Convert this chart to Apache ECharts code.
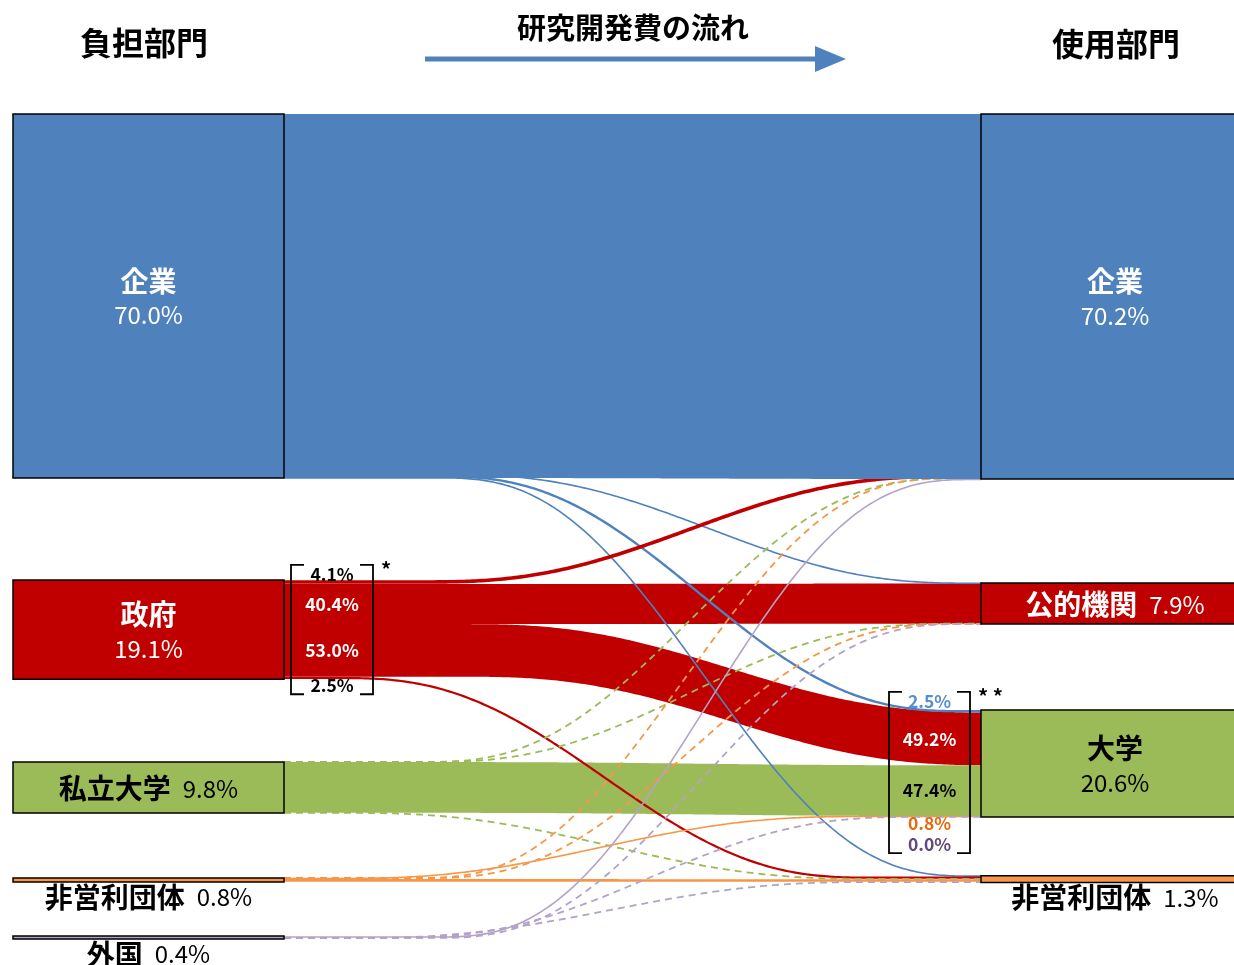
<!DOCTYPE html>
<html>
<head>
<meta charset="utf-8">
<script src="https://cdn.jsdelivr.net/npm/echarts@6/dist/echarts.min.js"></script>
<style>
  html, body { margin: 0; padding: 0; background: #ffffff; }
  #chart { width: 1234px; height: 965px; }
</style>
</head>
<body>
<div id="chart"></div>
<script>
// 負担部門 (who pays) and 使用部門 (who spends), % of total R&D expenditure
const funders = ['企業', '政府', '私立大学', '非営利団体', '外国'];
const funderShare = [70.0, 19.1, 9.8, 0.8, 0.4];
const performers = ['企業', '公的機関', '大学', '非営利団体'];
const performerShare = [70.2, 7.9, 20.6, 1.3];

// 政府負担額の使用部門別内訳 (% of 政府負担)
const govToPerformer = [4.1, 40.4, 53.0, 2.5];
// 大学使用額の負担部門別内訳 (% of 大学使用)
const univFromFunder = [2.5, 49.2, 47.4, 0.8, 0.0];

// remaining flows, % of total; the 大学 column comes from univFromFunder
const companyTo   = [69.3, 0.10, null, 0.12];
const privUnivTo  = [0.02, 0.01, null, 0.01];
const nonprofitTo = [0.02, 0.02, null, 0.58];
const foreignTo   = [0.34, 0.03, null, 0.02];

// ---- layout -------------------------------------------------------------
const UNIT_PX = 5.2;           // pixels per percentage point
const Y_MAX = 160;
const GRID_TOP = 114;
const X_MAX = 1234;
const LEFT_X = [13, 284];
const RIGHT_X = [981, 1249];
const LINK_X = [284, 982];
const FUNDER_GAP = [19.6, 15.9, 12.5, 10.4];
const PERFORMER_GAP = [20.0, 16.5, 11.3];
const LEFT_BRACKET_X = [291, 373];
const RIGHT_BRACKET_X = [889, 970];
const CURVE_HALF = 270;
const CURVE_MID = [
  [700, 710, 700, 705],
  [690, 700, 730, 605],
  [690, 690, 700, 610],
  [685, 690, 600, 640],
  [705, 700, 650, 610]
];
const JP = '"Noto Sans CJK JP", "Noto Sans", sans-serif';

const FUNDER_COLOR = ['#4F81BD', '#C00000', '#9BBB59', '#F79646', '#B3A2C7'];
const PERFORMER_COLOR = ['#4F81BD', '#C00000', '#9BBB59', '#F79646'];
const FUNDER_TEXT = ['#FFFFFF', '#FFFFFF', '#000000', '#000000', '#000000'];
const PERFORMER_TEXT = ['#FFFFFF', '#FFFFFF', '#000000', '#000000'];
const FUNDER_ACCENT = ['#558ED5', '#C00000', '#77933C', '#E46C0A', '#604A7B'];

// ---- flow amounts ---------------------------------------------------------
const otherRows = [companyTo, null, privUnivTo, nonprofitTo, foreignTo];
const srcAmt = funders.map((f, i) => performers.map((p, j) => {
  if (i === 1) return govToPerformer[j] * funderShare[1] / 100;
  if (j === 2) return univFromFunder[i] * performerShare[2] / 100;
  return otherRows[i][j];
}));
const dstAmt = funders.map((f, i) => performers.map((p, j) =>
  j === 2 ? univFromFunder[i] * performerShare[2] / 100 : srcAmt[i][j]));

// node tops, stacked with gaps
const fTop = [];
{ let y = 0; funderShare.forEach((s, i) => { if (i > 0) y += FUNDER_GAP[i - 1]; fTop.push(y); y += s; }); }
const pTop = [];
{ let y = 0; performerShare.forEach((s, j) => { if (j > 0) y += PERFORMER_GAP[j - 1]; pTop.push(y); y += s; }); }

// link segment positions on both sides
const srcTop = srcAmt.map((row, i) => { let y = fTop[i]; return row.map(v => { const t = y; y += v; return t; }); });
const dstTop = funders.map(() => []);
performers.forEach((p, j) => { let y = pTop[j]; funders.forEach((f, i) => { dstTop[i][j] = y; y += dstAmt[i][j]; }); });

const links = [];
funders.forEach((f, i) => performers.forEach((p, j) => {
  const v = Math.max(srcAmt[i][j], dstAmt[i][j]);
  let kind = v >= 1 ? 'band' : (v < 0.05 ? 'dash' : 'line');
  let s0 = srcTop[i][j], s1 = s0 + srcAmt[i][j], t0 = dstTop[i][j], t1 = t0 + dstAmt[i][j];
  if (i === 0 && j === 0) {   // company-internal flow spans the whole node
    kind = 'main';
    s0 = fTop[0]; s1 = fTop[0] + funderShare[0];
    t0 = pTop[0]; t1 = pTop[0] + performerShare[0];
  }
  links.push({ i, j, v, kind, s0, s1, t0, t1 });
}));

const nodes = [];
funders.forEach((name, i) => nodes.push({ name, share: funderShare[i], top: fTop[i], x0: LEFT_X[0], x1: LEFT_X[1], color: FUNDER_COLOR[i], text: FUNDER_TEXT[i] }));
performers.forEach((name, j) => nodes.push({ name, share: performerShare[j], top: pTop[j], x0: RIGHT_X[0], x1: RIGHT_X[1], color: PERFORMER_COLOR[j], text: PERFORMER_TEXT[j] }));

const brackets = [
  {
    x: LEFT_BRACKET_X, mark: '*', markDx: 8, above: 6, nodeTop: fTop[1], nodeBottom: fTop[1] + funderShare[1],
    segs: performers.map((p, j) => ({ top: srcTop[1][j], h: srcAmt[1][j], label: govToPerformer[j], inColor: FUNDER_TEXT[1], outColor: '#000000' }))
  },
  {
    x: RIGHT_BRACKET_X, mark: '* *', markDx: 8, above: 9, nodeTop: pTop[2], nodeBottom: pTop[2] + performerShare[2],
    segs: funders.map((f, i) => ({ top: dstTop[i][2], h: dstAmt[i][2], label: univFromFunder[i], inColor: FUNDER_TEXT[i], outColor: FUNDER_ACCENT[i] }))
  }
];

// ---- geometry helpers ------------------------------------------------------
function smoother(u) {
  u = Math.min(1, Math.max(0, u));
  return u * u * u * (u * (u * 6 - 15) + 10);
}
function curvePoints(api, y0, y1, mid) {
  const pts = [];
  const a = mid - CURVE_HALF;
  for (let x = LINK_X[0]; ; x += 3) {
    const xx = Math.min(x, LINK_X[1]);
    const y = y0 + (y1 - y0) * smoother((xx - a) / (2 * CURVE_HALF));
    pts.push(api.coord([xx, y]));
    if (xx >= LINK_X[1]) break;
  }
  return pts;
}

function renderBand(params, api) {
  const L = links[api.value(0)];
  const mid = CURVE_MID[L.i][L.j];
  const top = curvePoints(api, L.s0, L.t0, mid);
  const bottom = curvePoints(api, L.s1, L.t1, mid).reverse();
  return { type: 'polygon', shape: { points: top.concat(bottom) }, style: { fill: FUNDER_COLOR[L.i] } };
}

function renderLine(params, api) {
  const L = links[api.value(0)];
  const mid = CURVE_MID[L.i][L.j];
  const pts = curvePoints(api, (L.s0 + L.s1) / 2, (L.t0 + L.t1) / 2, mid);
  const dashed = L.kind === 'dash';
  return {
    type: 'polyline', shape: { points: pts },
    style: {
      stroke: FUNDER_COLOR[L.i], fill: null,
      lineWidth: dashed ? 1.8 : Math.max(1.6, L.v * 4.6),
      lineDash: dashed ? [7, 5] : null
    }
  };
}

function renderNode(params, api) {
  const n = nodes[api.value(0)];
  const p0 = api.coord([n.x0, n.top]);
  const p1 = api.coord([n.x1, n.top + n.share]);
  const h = Math.max(p1[1] - p0[1], 3);
  const cx = (p0[0] + p1[0]) / 2;
  const cy = p0[1] + h / 2;
  const val = n.share.toFixed(1) + '%';
  const inside = n.share >= 2;
  const col = inside ? n.text : '#000000';
  let text, ty;
  if (n.share >= 15) { text = '{n|' + n.name + '}\n{v|' + val + '}'; ty = cy + 2; }
  else if (inside) { text = '{n|' + n.name + '}{g|' + val + '}'; ty = cy + 1; }
  else { text = '{n|' + n.name + '}{g|' + val + '}'; ty = p0[1] + h + 15; }
  return {
    type: 'group',
    children: [
      { type: 'rect', shape: { x: p0[0], y: p0[1], width: p1[0] - p0[0], height: h },
        style: { fill: n.color, stroke: '#000000', lineWidth: 1.5 } },
      { type: 'text', x: cx, y: ty,
        style: {
          text, align: 'center', verticalAlign: 'middle', fill: col,
          rich: {
            n: { fontFamily: JP, fontSize: 28, fontWeight: 'bold', fill: col, lineHeight: 34 },
            v: { fontFamily: JP, fontSize: 24, fontWeight: 'normal', fill: col, lineHeight: 34 },
            g: { fontFamily: JP, fontSize: 24, fontWeight: 'normal', fill: col, lineHeight: 34, padding: [0, 0, 0, 12] }
          }
        } }
    ]
  };
}

function renderBracket(params, api) {
  const b = brackets[api.value(0)];
  const nTop = api.coord([0, b.nodeTop])[1];
  const nBot = api.coord([0, b.nodeBottom])[1];
  const bandIdx = b.segs.map((s, k) => s.h >= 1 ? k : -1).filter(k => k >= 0);
  const first = bandIdx[0], last = bandIdx[bandIdx.length - 1];
  const bx0 = api.coord([b.x[0], 0])[0], bx1 = api.coord([b.x[1], 0])[0];
  const cx = (bx0 + bx1) / 2;
  const children = [];
  const ys = [];
  b.segs.forEach((s, k) => {
    let y, color;
    if (k < first) { y = nTop - b.above - 21 * (first - 1 - k); color = s.outColor; }
    else if (k > last) { y = nBot + 6 + 21 * (k - last - 1); color = s.outColor; }
    else {
      y = (api.coord([0, s.top])[1] + api.coord([0, s.top + s.h])[1]) / 2;
      color = s.inColor;
    }
    ys.push(y);
    children.push({ type: 'text', x: cx, y,
      style: { text: s.label.toFixed(1) + '%', align: 'center', verticalAlign: 'middle',
               fill: color, fontFamily: JP, fontSize: 17.5, fontWeight: 'bold' } });
  });
  const yTop = Math.min.apply(null, ys) - 9;
  const yBot = Math.max.apply(null, ys) + 9;
  const tick = 13;
  const st = { stroke: '#000000', lineWidth: 1.8, fill: null };
  children.push({ type: 'polyline', shape: { points: [[bx0 + tick, yTop], [bx0, yTop], [bx0, yBot], [bx0 + tick, yBot]] }, style: st });
  children.push({ type: 'polyline', shape: { points: [[bx1 - tick, yTop], [bx1, yTop], [bx1, yBot], [bx1 - tick, yBot]] }, style: st });
  children.push({ type: 'text', x: bx1 + b.markDx, y: yTop + 4,
    style: { text: b.mark, align: 'left', verticalAlign: 'middle', fill: '#000000', fontFamily: JP, fontSize: 20, fontWeight: 'bold' } });
  return { type: 'group', children };
}

const idx = list => list.map(k => [k, 0]);
const bandIdx = links.map((l, k) => l.kind === 'band' ? k : -1).filter(k => k >= 0);
const lineIdx = links.map((l, k) => (l.kind === 'line' || l.kind === 'dash') ? k : -1).filter(k => k >= 0);
const mainIdx = links.map((l, k) => l.kind === 'main' ? k : -1).filter(k => k >= 0);

const chart = echarts.init(document.getElementById('chart'));
chart.setOption({
  animation: false,
  backgroundColor: '#ffffff',
  grid: { left: 0, right: 0, top: GRID_TOP, height: Y_MAX * UNIT_PX },
  xAxis: { type: 'value', min: 0, max: X_MAX, show: false },
  yAxis: { type: 'value', min: 0, max: Y_MAX, inverse: true, show: false },
  graphic: [
    { type: 'text', x: 144, y: 43, style: { text: '負担部門', align: 'center', verticalAlign: 'middle', fill: '#000000', fontFamily: JP, fontSize: 32, fontWeight: 'bold' } },
    { type: 'text', x: 1116, y: 44, style: { text: '使用部門', align: 'center', verticalAlign: 'middle', fill: '#000000', fontFamily: JP, fontSize: 32, fontWeight: 'bold' } },
    { type: 'text', x: 633, y: 28, style: { text: '研究開発費の流れ', align: 'center', verticalAlign: 'middle', fill: '#000000', fontFamily: JP, fontSize: 29, fontWeight: 'bold' } },
    { type: 'line', shape: { x1: 425, y1: 59, x2: 820, y2: 59 }, style: { stroke: '#4F81BD', lineWidth: 5 } },
    { type: 'polygon', shape: { points: [[815, 46], [846, 59], [815, 72]] }, style: { fill: '#4F81BD' } }
  ],
  series: [
    { type: 'custom', name: 'bands', z: 1, renderItem: renderBand, data: idx(bandIdx), silent: true },
    { type: 'custom', name: 'lines', z: 2, renderItem: renderLine, data: idx(lineIdx), silent: true },
    { type: 'custom', name: 'main', z: 3, renderItem: renderBand, data: idx(mainIdx), silent: true },
    { type: 'custom', name: 'nodes', z: 4, renderItem: renderNode, data: idx(nodes.map((n, k) => k)), silent: true },
    { type: 'custom', name: 'brackets', z: 5, renderItem: renderBracket, data: idx([0, 1]), silent: true }
  ]
});
</script>
</body>
</html>
